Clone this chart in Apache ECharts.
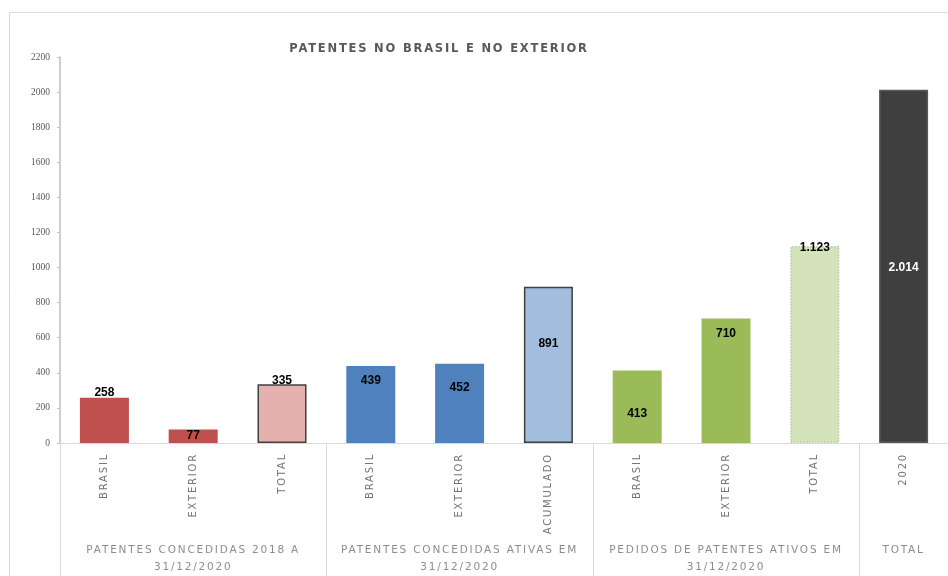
<!DOCTYPE html>
<html>
<head>
<meta charset="utf-8">
<script src="https://cdn.jsdelivr.net/npm/echarts@6/dist/echarts.min.js"></script>
<style>html,body{margin:0;padding:0;background:#fff;}#c{width:948px;height:576px;}</style>
</head>
<body>
<div id="c"></div>
<script>
const titleText = 'PATENTES NO BRASIL E NO EXTERIOR';
const categories = ['BRASIL','EXTERIOR','TOTAL','BRASIL','EXTERIOR','ACUMULADO','BRASIL','EXTERIOR','TOTAL','2020'];
const values = [258, 77, 335, 439, 452, 891, 413, 710, 1123, 2014];
const valueLabels = ['258','77','335','439','452','891','413','710','1.123','2.014'];
const groupLabels = {1:'PATENTES CONCEDIDAS 2018 A\n31/12/2020', 4:'PATENTES CONCEDIDAS ATIVAS EM\n31/12/2020', 7:'PEDIDOS DE PATENTES ATIVOS EM\n31/12/2020', 9:'TOTAL'};
const yTicks = {min:0, max:2200, interval:200};

// styling (not data)
const barColors = ['#C0504D','#C0504D','#E6B0AF','#4F81BD','#4F81BD','#A3BDDF','#9BBB59','#9BBB59','#D5E3BA','#3F3F3F'];
const borderColors = [null,null,'#404040',null,null,'#3F3F3F',null,null,'#B8C9A0','#595959'];
const labelDy = [-5, 6, -4, 15, 24, 57, 43, 15, 2, 178];
const labelColors = ['#000','#000','#000','#000','#000','#000','#000','#000','#000','#fff'];

// letter-spaced look for the DejaVu text (title and axis captions)
(function(){
  const p = CanvasRenderingContext2D.prototype;
  const oF = p.fillText, oS = p.strokeText, oM = p.measureText;
  function ls(ctx){ if ('letterSpacing' in ctx) ctx.letterSpacing = /DejaVu/.test(ctx.font) ? '1.8px' : '0px'; }
  p.fillText = function(){ ls(this); return oF.apply(this, arguments); };
  p.strokeText = function(){ ls(this); return oS.apply(this, arguments); };
  p.measureText = function(){ ls(this); return oM.apply(this, arguments); };
})();

const chart = echarts.init(document.getElementById('c'), null, {renderer:'canvas'});
const seriesData = values.map((v,i)=>({
  value: v,
  itemStyle: {
    color: barColors[i],
    borderColor: borderColors[i] || barColors[i],
    borderWidth: borderColors[i] ? 1.5 : 0,
    borderType: i===8 ? 'dotted' : 'solid'
  },
  label: {
    show: true,
    position: 'insideTop',
    distance: 0,
    verticalAlign: 'middle',
    offset: [0, labelDy[i]],
    formatter: valueLabels[i],
    color: labelColors[i],
    fontFamily: 'Liberation Sans',
    fontWeight: 'bold',
    fontSize: 12
  }
}));

chart.setOption({
  animation: false,
  title: {
    text: titleText,
    left: 434, top: 37, textAlign: 'center',
    textStyle: {fontFamily:'DejaVu Sans', fontWeight:'bold', fontSize:11.5, color:'#595959'}
  },
  graphic: [{
    type:'rect', shape:{x:9.5, y:12.5, width:960, height:620},
    style:{fill:'none', stroke:'#D9D9D9', lineWidth:1}, silent:true, z:-10
  }],
  grid: {left:60, right:-2, top:57, bottom:131, containLabel:false},
  xAxis: [{
    type:'category', data: categories, position:'bottom',
    axisLine:{show:true, lineStyle:{color:'#D9D9D9', width:1}},
    axisTick:{show:false},
    axisLabel:{rotate:90, margin:10, fontFamily:'DejaVu Sans', fontSize:10, color:'#737373'}
  },{
    type:'category', data: categories, position:'bottom',
    axisLine:{show:false},
    axisTick:{show:true, length:135, interval:(i)=> i%3===0, lineStyle:{color:'#D9D9D9', width:1}},
    axisLabel:{
      show:true, margin:99, interval:(i)=> groupLabels[i]!==undefined,
      formatter:(v,i)=> groupLabels[i] || '',
      fontFamily:'DejaVu Sans', fontSize:10.5, lineHeight:17, color:'#8C8C8C', align:'center'
    }
  }],
  yAxis: {
    type:'value', min:yTicks.min, max:yTicks.max, interval:yTicks.interval,
    axisLine:{show:true, lineStyle:{color:'#BFBFBF', width:1.5}},
    axisTick:{show:true, length:3, lineStyle:{color:'#BFBFBF'}},
    splitLine:{show:false},
    axisLabel:{margin:10, formatter:(v)=> String(v), fontFamily:'Liberation Serif', fontSize:9.5, color:'#595959'}
  },
  series: [{
    type:'bar', xAxisIndex:0, data: seriesData, barWidth:49
  }]
});
</script>
</body>
</html>
